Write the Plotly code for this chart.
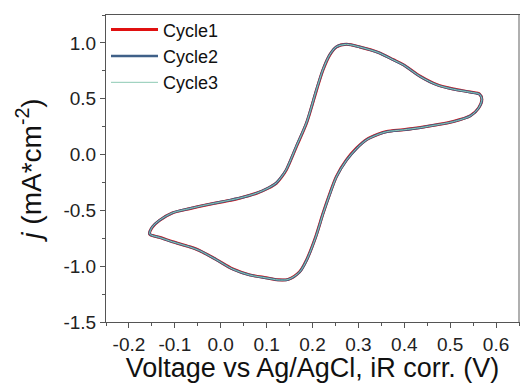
import plotly.graph_objects as go

# Voltage (V vs Ag/AgCl, iR corrected) – one closed CV loop
voltage = [-0.155, -0.149, -0.134, -0.105, -0.068, -0.032, 0.005, 0.041, 0.078, 0.103,
           0.121, 0.132, 0.143, 0.165, 0.187, 0.209, 0.223, 0.238, 0.252, 0.274,
           0.303, 0.343, 0.376, 0.398, 0.435, 0.471, 0.507, 0.544, 0.564, 0.569,
           0.562, 0.544, 0.507, 0.471, 0.435, 0.398, 0.362, 0.343, 0.318, 0.296,
           0.274, 0.252, 0.238, 0.223, 0.207, 0.187, 0.172, 0.147, 0.125, 0.099,
           0.063, 0.026, -0.010, -0.046, -0.068, -0.105, -0.134, -0.150, -0.155]

cycle1 = [-0.712, -0.650, -0.592, -0.523, -0.485, -0.452, -0.422, -0.391, -0.347, -0.302,
          -0.257, -0.205, -0.137, 0.072, 0.282, 0.581, 0.760, 0.895, 0.964, 0.987,
          0.964, 0.916, 0.850, 0.805, 0.700, 0.626, 0.587, 0.560, 0.542, 0.495,
          0.417, 0.347, 0.296, 0.267, 0.242, 0.222, 0.206, 0.182, 0.135, 0.057,
          -0.048, -0.197, -0.347, -0.526, -0.736, -0.945, -1.050, -1.118, -1.122, -1.104,
          -1.078, -1.025, -0.940, -0.860, -0.826, -0.781, -0.741, -0.725, -0.712]

cycle2 = [-0.710, -0.648, -0.590, -0.522, -0.484, -0.451, -0.421, -0.390, -0.346, -0.301,
          -0.255, -0.202, -0.134, 0.076, 0.286, 0.585, 0.763, 0.897, 0.965, 0.987,
          0.963, 0.914, 0.848, 0.803, 0.698, 0.624, 0.585, 0.558, 0.540, 0.494,
          0.416, 0.346, 0.295, 0.266, 0.241, 0.221, 0.205, 0.180, 0.132, 0.054,
          -0.052, -0.201, -0.351, -0.530, -0.740, -0.948, -1.052, -1.119, -1.123, -1.105,
          -1.079, -1.026, -0.941, -0.861, -0.827, -0.782, -0.742, -0.724, -0.710]

cycle3 = [-0.710, -0.648, -0.590, -0.522, -0.484, -0.451, -0.421, -0.390, -0.346, -0.301,
          -0.255, -0.202, -0.134, 0.076, 0.286, 0.585, 0.763, 0.897, 0.965, 0.987,
          0.963, 0.914, 0.848, 0.803, 0.698, 0.624, 0.585, 0.558, 0.540, 0.494,
          0.416, 0.346, 0.295, 0.266, 0.241, 0.221, 0.205, 0.180, 0.132, 0.054,
          -0.052, -0.201, -0.351, -0.530, -0.740, -0.948, -1.052, -1.119, -1.123, -1.105,
          -1.079, -1.026, -0.941, -0.861, -0.827, -0.782, -0.742, -0.724, -0.710]

x_tickvals = [-0.2, -0.1, 0.0, 0.1, 0.2, 0.3, 0.4, 0.5, 0.6]
x_ticktext = ["-0.2", "-0.1", "0.0", "0.1", "0.2", "0.3", "0.4", "0.5", "0.6"]
y_tickvals = [-1.5, -1.0, -0.5, 0.0, 0.5, 1.0]
y_ticktext = ["-1.5", "-1.0", "-0.5", "0.0", "0.5", "1.0"]

FONT = "Liberation Sans, Arial, sans-serif"

fig = go.Figure()
fig.add_trace(go.Scatter(x=voltage, y=cycle1, mode="lines", name="Cycle1",
                         line=dict(color="#e01010", width=3, shape="spline", smoothing=0.8)))
fig.add_trace(go.Scatter(x=voltage, y=cycle2, mode="lines", name="Cycle2",
                         line=dict(color="#3f6088", width=2.5, shape="spline", smoothing=0.8)))
fig.add_trace(go.Scatter(x=voltage, y=cycle3, mode="lines", name="Cycle3",
                         line=dict(color="#8cc9b4", width=1, shape="spline", smoothing=0.8)))

axis_common = dict(
    showline=True, linecolor="#555555", linewidth=1, mirror=True,
    ticks="outside", ticklen=5, tickwidth=1, tickcolor="#555555",
    showgrid=False, zeroline=False,
    tickfont=dict(family=FONT, size=19, color="#222222"),
    minor=dict(ticks="outside", ticklen=3, tickcolor="#555555", tickwidth=1, showgrid=False),
)

fig.update_xaxes(
    range=[-0.25, 0.65], tickmode="array", tickvals=x_tickvals, ticktext=x_ticktext,
    minor_dtick=0.05, minor_tick0=-0.25,
    title=dict(text="Voltage vs Ag/AgCl, iR corr. (V)", standoff=9,
               font=dict(family=FONT, size=27, color="#111111")),
    **axis_common,
)
fig.update_yaxes(
    range=[-1.5, 1.25], tickmode="array", tickvals=y_tickvals, ticktext=y_ticktext,
    minor_dtick=0.25, minor_tick0=-1.5,
    title=dict(text="<i>j</i> (mA*cm<sup>-2</sup>)", standoff=13,
               font=dict(family=FONT, size=28, color="#111111")),
    **axis_common,
)

fig.add_shape(type="line", xref="paper", yref="paper", x0=1, x1=1, y0=0, y1=1,
              line=dict(color="#b0b0b0", width=2))

fig.update_layout(
    width=525, height=383,
    margin=dict(l=106, r=6, t=15, b=61, autoexpand=False),
    plot_bgcolor="white", paper_bgcolor="white",
    showlegend=True,
    legend=dict(x=0.0, y=1.012, xanchor="left", yanchor="top",
                bgcolor="rgba(0,0,0,0)", borderwidth=0,
                font=dict(family=FONT, size=18, color="#111111"),
                tracegroupgap=0, itemwidth=47),
)

fig.write_html("out.html")
